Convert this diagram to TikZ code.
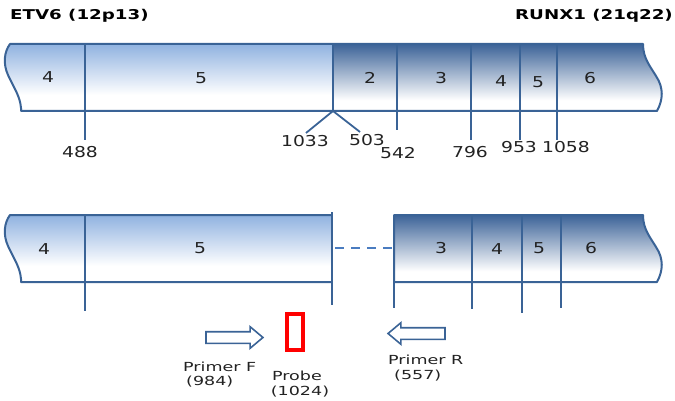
\documentclass[tikz,border=0pt]{standalone}
\usepackage{fontspec}
\usepackage{graphicx}
\setmainfont{DejaVu Sans}
\newfontfamily\numfont[FakeStretch=1.25]{DejaVu Sans}
\newfontfamily\lblfont[FakeStretch=1.4]{DejaVu Sans}
\usetikzlibrary{positioning,shapes.arrows}

\definecolor{barblue}{HTML}{3A6396}
\definecolor{etvblue}{HTML}{90B2E0}
\definecolor{runxblue}{HTML}{3C6398}
\definecolor{dashblue}{HTML}{4A7CC0}
\definecolor{txtgray}{HTML}{222222}

\pgfdeclareverticalshading{etvshade}{100bp}{color(0bp)=(white); color(37bp)=(white); color(75bp)=(etvblue); color(100bp)=(etvblue)}
\pgfdeclareverticalshading{runxshade}{100bp}{color(0bp)=(white); color(33bp)=(white); color(75bp)=(runxblue); color(100bp)=(runxblue)}

\newcommand{\genename}[1]{\scalebox{1.35}[1]{#1}}

\tikzset{
  bar/.style={draw=barblue, line width=2pt, line join=round},
  tick/.style={draw=barblue, line width=1.8pt},
  exon/.style={font=\numfont\fontsize{15}{16}\selectfont, text=txtgray, inner sep=0pt},
  bpnum/.style={font=\numfont\fontsize{15}{16}\selectfont, text=txtgray, inner sep=0pt},
  gene/.style={font=\bfseries\fontsize{13.5}{14}\selectfont, text=black, inner sep=0pt},
  lbl/.style={font=\lblfont\fontsize{12.5}{13}\selectfont, text=txtgray, inner sep=0pt},
  primer/.style={single arrow, draw=barblue, line width=1.6pt, fill=white,
    minimum height=57pt, inner sep=5pt, single arrow head extend=5pt,
    single arrow tip angle=80},
}

\begin{document}
\begin{tikzpicture}[x=1pt,y=-1pt]
\useasboundingbox (0,0) rectangle (675,401);

% gene names
\node[gene, anchor=west] (etv) at (10,16) {\genename{ETV6 (12p13)}};
\node[gene, anchor=east] (runx) at (673,16) {\genename{RUNX1 (21q22)}};

% fusion transcript
\fill[shading=etvshade] (10,44) -- (333,44) -- (333,111) -- (21,111) -- (21,108)
  .. controls (20,96) and (14,88) .. (8,75) .. controls (3,64) and (4,52) .. (10,44) -- cycle;
\fill[shading=runxshade] (333,44) -- (643,44) .. controls (643,58) and (650,66) .. (656,76)
  .. controls (664,88) and (663,100) .. (657,111) -- (333,111) -- cycle;
\draw[bar] (10,44) -- (643,44) .. controls (643,58) and (650,66) .. (656,76)
  .. controls (664,88) and (663,100) .. (657,111) -- (21,111) -- (21,108)
  .. controls (20,96) and (14,88) .. (8,75) .. controls (3,64) and (4,52) .. (10,44) -- cycle;

\node[exon] (a4) at (48,77) {4};
\node[exon] (a5) at (201,78) {5};
\node[exon] (b2) at (370,78) {2};
\node[exon] (b3) at (441,78) {3};
\node[exon] (b4) at (501,81) {4};
\node[exon] (b5) at (538,82) {5};
\node[exon] (b6) at (590,78) {6};

% exon borders
\foreach \x/\e in {85/140, 397/130, 471/140, 520/140, 557/140}
  \draw[tick] (\x,44) -- (\x,\e);
\draw[tick] (333,44) -- (333,111);
\coordinate (junc) at (333,111);
\draw[tick] (junc) -- (306,133);
\draw[tick] (junc) -- (360,132);

\node[bpnum] (p488) at (80,152) {488};
\node[bpnum] (p1033) at (305,141) {1033};
\node[bpnum] (p503) at (367,140) {503};
\node[bpnum] (p542) at (398,153) {542};
\node[bpnum] (p796) at (470,152) {796};
\node[bpnum] (p953) at (519,147) {953};
\node[bpnum] (p1058) at (566,147) {1058};

% genomic parts
\fill[shading=etvshade] (10,215) -- (332,215) -- (332,282) -- (21,282) -- (21,279)
  .. controls (20,267) and (14,259) .. (8,246) .. controls (3,235) and (4,223) .. (10,215) -- cycle;
\draw[bar] (332,215) -- (10,215)
  .. controls (4,223) and (3,235) .. (8,246) .. controls (14,259) and (20,267) .. (21,279)
  -- (21,282) -- (332,282);
\fill[shading=runxshade] (394,215) -- (643,215) .. controls (643,229) and (650,237) .. (656,247)
  .. controls (664,259) and (663,271) .. (657,282) -- (394,282) -- cycle;
\draw[bar] (394,215) -- (643,215) .. controls (643,229) and (650,237) .. (656,247)
  .. controls (664,259) and (663,271) .. (657,282) -- (394,282) -- cycle;

\node[exon] (c4) at (44,249) {4};
\node[exon] (c5) at (200,248) {5};
\node[exon] (d3) at (441,248) {3};
\node[exon] (d4) at (497,249) {4};
\node[exon] (d5) at (539,248) {5};
\node[exon] (d6) at (591,248) {6};

\draw[tick] (85,215) -- (85,311);
\draw[tick] (332,212) -- (332,305);
\foreach \x/\e in {394/308, 472/309, 522/313, 561/308}
  \draw[tick] (\x,215) -- (\x,\e);

\coordinate (gapL) at (335,248);
\coordinate (gapR) at (393,248);
\draw[dashblue, line width=2.5pt, dash pattern=on 9pt off 7pt] (gapL) -- (gapR);

% primers and probe
\node[primer] (fwd) at (231,337.5) {};
\node[primer, shape border rotate=180] (rev) at (420,333.5) {};
\node[draw=red, line width=4pt, minimum width=16pt, minimum height=36pt, inner sep=0pt] (probe) at (295,332) {};

\node[lbl, anchor=west] (fname) at (183,367) {Primer F};
\node[lbl, anchor=west] (fpos) at (186,382) {(984)};
\node[lbl] (pname) at (297,376) {Probe};
\node[lbl] (ppos) at (300,392) {(1024)};
\node[lbl, anchor=west] (rname) at (388,360) {Primer R};
\node[lbl, anchor=west] (rpos) at (394,376) {(557)};
\end{tikzpicture}
\end{document}
